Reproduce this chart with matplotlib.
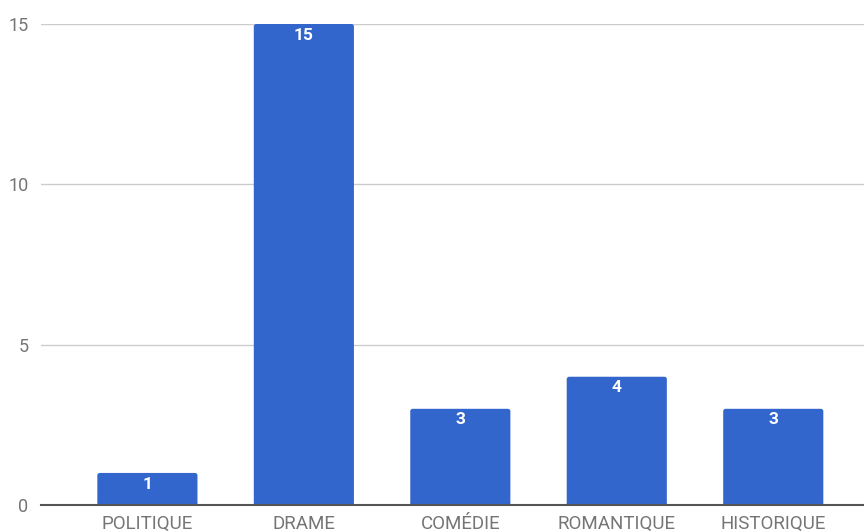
import matplotlib
matplotlib.use("Agg")
import matplotlib.pyplot as plt
from matplotlib.patches import FancyBboxPatch

categories = ["POLITIQUE", "DRAME", "COMÉDIE", "ROMANTIQUE", "HISTORIQUE"]
values = [1, 15, 3, 4, 3]
yticks = [0, 5, 10, 15]

plt.rcParams['font.family'] = ['Roboto', 'DejaVu Sans']

W, H = 864, 531
fig = plt.figure(figsize=(W / 100, H / 100), dpi=100)
ax = fig.add_axes([41 / W, (H - 505) / H, (W - 41) / W, (505 - 24) / H])

x = list(range(len(categories)))
bars = ax.bar(x, values, width=0.64, color="#3366cc", zorder=3)

ax.set_xlim(-0.68, 4.58)
ax.set_ylim(0, 15)

# replace bars by rounded-corner versions
px_x = (W - 41) / (4.58 + 0.68)      # pixels per x unit
px_y = (505 - 24) / 15.0             # pixels per y unit
r_px = 2.5
for b in bars:
    b.set_visible(False)
    x0 = b.get_x()
    w = b.get_width()
    h = b.get_height()
    patch = FancyBboxPatch((x0, -0.3), w, h + 0.3,
                           boxstyle=f"round,pad=0,rounding_size={r_px / px_x}",
                           mutation_aspect=px_x / px_y,
                           facecolor="#3366cc", edgecolor="none", zorder=3,
                           clip_on=True)
    ax.add_patch(patch)

ax.set_yticks(yticks)
ax.set_yticklabels([str(t) for t in yticks])
ax.set_xticks(x)
ax.set_xticklabels(categories)

ax.grid(axis="y", color="#cccccc", linewidth=1, zorder=0)
for s in ["top", "right", "left"]:
    ax.spines[s].set_visible(False)
ax.spines["bottom"].set_color("#555555")
ax.spines["bottom"].set_linewidth(1.5)
ax.spines["bottom"].set_zorder(4)

ax.tick_params(axis="y", length=0, pad=9, labelsize=13, labelcolor="#757575")
ax.tick_params(axis="x", length=0, pad=7, labelsize=13.5, labelcolor="#757575")

for xi, v in zip(x, values):
    ax.annotate(str(v), (xi, v), xytext=(0, -8), textcoords="offset points",
                ha="center", va="center", color="white", fontsize=12.5,
                fontweight="bold", zorder=5)

fig.savefig("out.png", dpi=100)
